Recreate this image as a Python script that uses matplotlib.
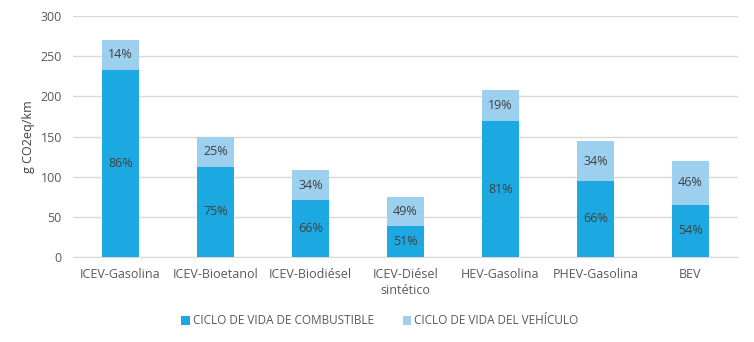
import matplotlib
matplotlib.use("Agg")
import matplotlib.pyplot as plt
import numpy as np

categories = ["ICEV-Gasolina", "ICEV-Bioetanol", "ICEV-Biodiésel",
              "ICEV-Diésel\nsintético", "HEV-Gasolina", "PHEV-Gasolina", "BEV"]
fuel_cycle = [233, 112.5, 71, 38, 169, 95, 65]
vehicle_cycle = [37, 37.5, 37, 36.5, 39, 49, 55]
series_names = ["CICLO DE VIDA DE COMBUSTIBLE", "CICLO DE VIDA DEL VEHÍCULO"]
y_ticks = [0, 50, 100, 150, 200, 250, 300]

plt.rcParams["font.family"] = ["Open Sans", "DejaVu Sans"]

fig = plt.figure(figsize=(7.54, 3.42), dpi=100)
ax = fig.add_axes([73 / 754, 1 - 257 / 342, 665 / 754, 241 / 342])

c_fuel = "#1CA9E2"
c_veh = "#9DD0EE"
txt = "#595959"

x = np.arange(len(categories))
fuel = np.array(fuel_cycle)
veh = np.array(vehicle_cycle)
total = fuel + veh

ax.bar(x, fuel, width=0.39, color=c_fuel, label=series_names[0], zorder=3)
ax.bar(x, veh, bottom=fuel, width=0.39, color=c_veh, label=series_names[1], zorder=3)

for xi, f, v, t in zip(x, fuel, veh, total):
    ax.text(xi, f / 2, f"{round(100 * f / t)}%", ha="center", va="center",
            fontsize=9, color="#404040", zorder=4)
    ax.text(xi, f + v / 2, f"{round(100 * v / t)}%", ha="center", va="center",
            fontsize=9, color="#404040", zorder=4)

ax.set_xlim(-0.5, len(categories) - 0.5)
ax.set_ylim(0, 300)
ax.set_yticks(y_ticks)
ax.set_xticks(x)
ax.set_xticklabels(categories, fontsize=9, color=txt, linespacing=1.3)
ax.tick_params(axis="y", labelsize=9, labelcolor=txt, length=0, pad=8)
ax.tick_params(axis="x", length=0, pad=8)
ax.grid(axis="y", color="#D9D9D9", linewidth=1, zorder=0)
for s in ["top", "right", "left"]:
    ax.spines[s].set_visible(False)
ax.spines["bottom"].set_color("#D9D9D9")
ax.set_ylabel("g CO2eq/km", fontsize=9, color="#404040", labelpad=4)

fig.legend(loc="center", bbox_to_anchor=(380 / 754, 1 - 321 / 342), ncol=2,
           frameon=False, fontsize=8.5, labelcolor=txt, handlelength=0.7,
           handleheight=0.7, handletextpad=0.3, columnspacing=2.4)

fig.savefig("out.png", dpi=100, facecolor="white")
